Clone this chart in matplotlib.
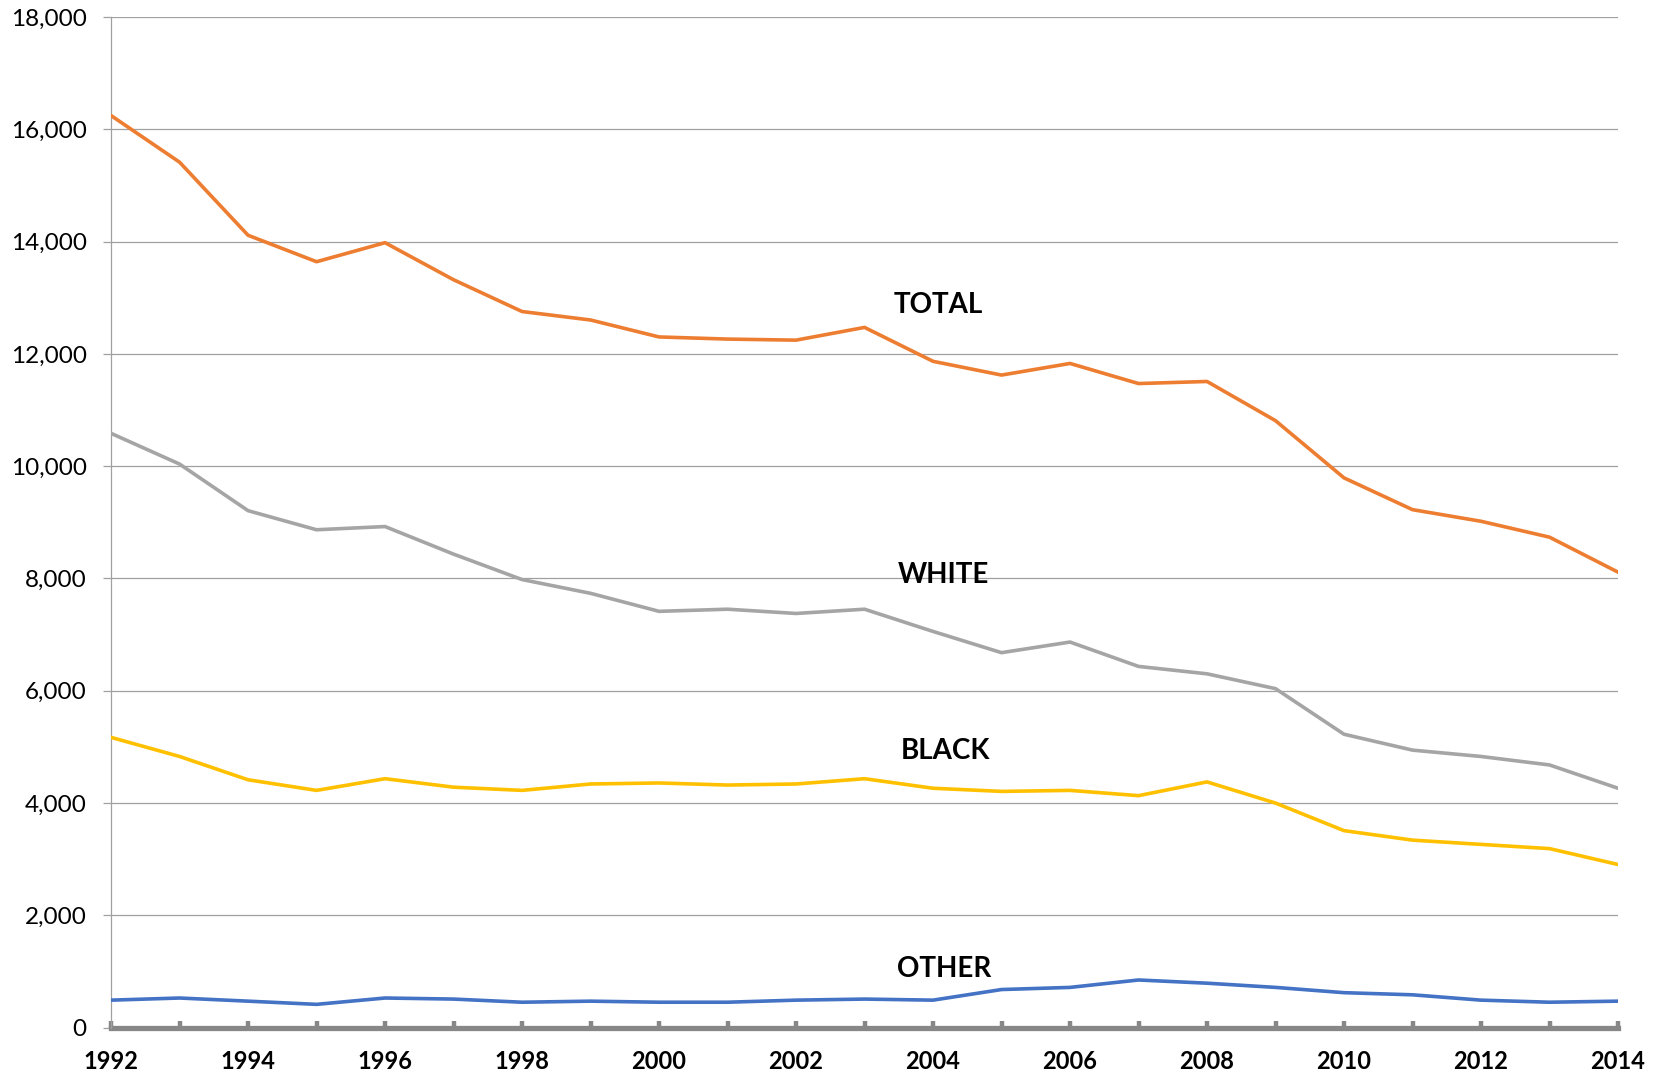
import matplotlib
matplotlib.use("Agg")
import matplotlib.pyplot as plt
from matplotlib.ticker import FuncFormatter, MultipleLocator

years = list(range(1992, 2015))
total = [16245, 15415, 14113, 13642, 13981, 13321, 12755, 12604, 12302, 12264, 12245, 12472,
         11868, 11623, 11830, 11472, 11509, 10811, 9792, 9226, 9019, 8736, 8113]
white = [10585, 10038, 9208, 8868, 8925, 8434, 7981, 7736, 7415, 7453, 7377, 7453,
         7057, 6679, 6868, 6434, 6302, 6038, 5226, 4943, 4830, 4679, 4264]
black = [5170, 4830, 4415, 4226, 4434, 4283, 4226, 4340, 4358, 4321, 4340, 4434,
         4264, 4208, 4226, 4132, 4377, 4000, 3509, 3340, 3264, 3189, 2906]
other = [490, 528, 472, 415, 528, 509, 453, 472, 453, 453, 490, 509,
         490, 679, 717, 849, 792, 717, 623, 585, 490, 453, 472]

series_names = ["TOTAL", "WHITE", "BLACK", "OTHER"]
series_values = [total, white, black, other]
series_colors = ["#ED7D31", "#A5A5A5", "#FFC000", "#4472C4"]
label_pos = [(2004.07, 12868), (2004.15, 8057), (2004.18, 4925), (2004.16, 1038)]

plt.rcParams['font.family'] = ['Lato', 'DejaVu Sans']

fig = plt.figure(figsize=(16.6, 10.78), dpi=100)
ax = fig.add_axes([0.0669, 0.0467, 0.9747 - 0.0669, 0.9842 - 0.0467])

for name, vals, col, pos in zip(series_names, series_values, series_colors, label_pos):
    ax.plot(years, vals, color=col, linewidth=2.6, solid_joinstyle='round', zorder=3)
    ax.text(pos[0], pos[1], name, fontsize=20, fontweight='bold', ha='center', va='center',
            color='black')

ax.set_xlim(1992, 2014)
ax.set_ylim(0, 18000)
ax.yaxis.set_major_locator(MultipleLocator(2000))
ax.yaxis.set_major_formatter(FuncFormatter(lambda v, p: f"{int(v):,}"))
ax.xaxis.set_major_locator(MultipleLocator(1))
ax.xaxis.set_major_formatter(FuncFormatter(lambda v, p: str(int(v)) if int(round(v)) % 2 == 0 else ""))

ax.grid(axis='y', color='#A0A0A0', linewidth=0.9, zorder=0)
ax.set_axisbelow(True)

for s in ['top', 'right']:
    ax.spines[s].set_visible(False)
ax.spines['left'].set_color('#A0A0A0')
ax.spines['left'].set_linewidth(0.9)
ax.spines['bottom'].set_color('#878787')
ax.spines['bottom'].set_linewidth(3.8)
ax.spines['bottom'].set_zorder(2)

ax.tick_params(axis='y', direction='out', length=5.5, width=0.9, color='#A0A0A0',
               labelsize=17.5, pad=12)
ax.tick_params(axis='x', direction='in', length=5, width=3.2, color='#878787',
               labelsize=17, pad=16)
for lbl in ax.get_xticklabels():
    lbl.set_fontweight('bold')

fig.savefig("out.png", dpi=100, facecolor='white')
